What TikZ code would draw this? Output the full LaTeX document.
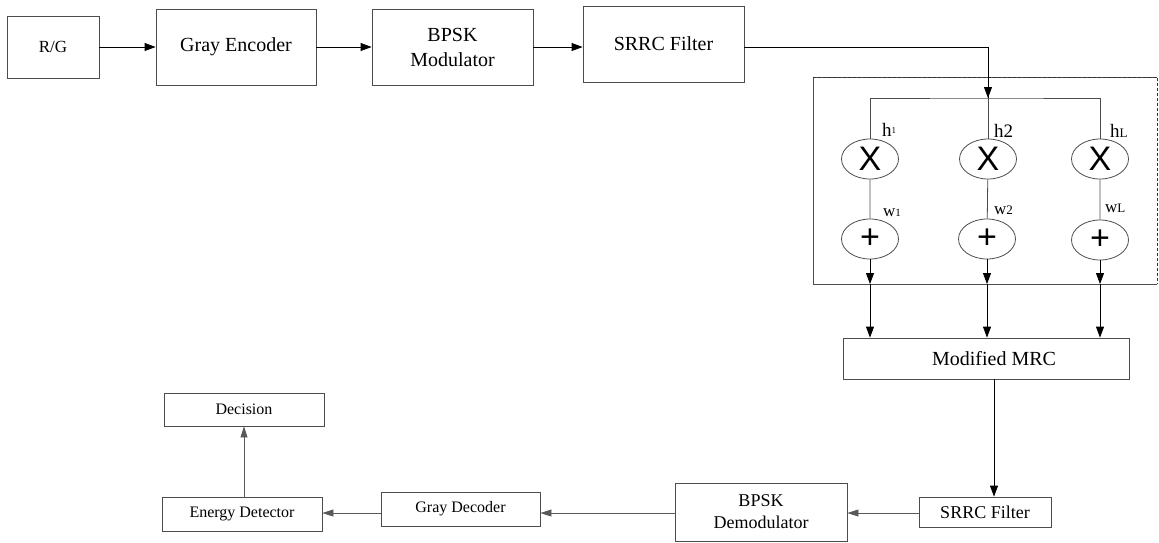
\documentclass[tikz,border=0pt]{standalone}
\usepackage{fontspec}
\setmainfont{Liberation Serif}
\newfontfamily\tnr{Liberation Serif}
\newfontfamily\opsans{Liberation Sans}
\usetikzlibrary{arrows.meta}
\usetikzlibrary{calc}
\usetikzlibrary{shapes.geometric}

\tikzset{
	blk/.style={draw=black!70, line width=0.8pt, inner sep=0pt, align=center, font=\tnr\fontsize{20}{25}\selectfont},
	sblk/.style={blk, font=\tnr\fontsize{16}{20}\selectfont},
	opnode/.style={draw=black!70, ellipse, line width=0.8pt, minimum width=57pt, minimum height=40pt, inner sep=0pt, font=\opsans\fontsize{34}{34}\selectfont},
	lbl/.style={inner sep=0pt, anchor=base west, font=\tnr\fontsize{19}{19}\selectfont},
	sig/.style={line width=0.8pt, -{Triangle[length=11pt,width=8pt]}},
	rsig/.style={line width=0.8pt, draw=black!65, -{Triangle[length=11pt,width=7pt]}, color=black!65}
}

\begin{document}
\begin{tikzpicture}[x=1pt,y=-1pt]
	\useasboundingbox (0,0) rectangle (1159,542);
	% transmitter
	\node [blk, minimum width=92pt, minimum height=62pt, font=\tnr\fontsize{17}{20}\selectfont] (rg) at (53,47) {R/G};
	\node [blk, minimum width=160pt, minimum height=76pt] (genc) at (236,47) {Gray Encoder};
	\node [blk, minimum width=161pt, minimum height=76pt] (bmod) at (452.5,47) {BPSK\\Modulator};
	\node [blk, minimum width=161pt, minimum height=76pt] (srrc) at (663.5,44) {SRRC Filter};
	\draw [sig] (rg.east) -- (rg.east -| genc.west);
	\draw [sig] (genc.east) -- (genc.east -| bmod.west);
	\draw [sig] (bmod.east |- rg.east) -- (bmod.east |- rg.east -| srrc.west);
	% channel
	\draw [line width=0.8pt, black!70] (1157,77) -- (813,77) -- (813,284) -- (1157,284);
	\draw [line width=0.8pt, black!80, dashed, dash pattern=on 3pt off 2pt] (813,77) -- (1157,77) -- (1157,284);
	\coordinate (bus) at (988,98);
	\node [opnode] (mul1) at (870,159) {X};
	\node [opnode] (mul2) at (988,159) {X};
	\node [opnode] (mulL) at (1100,159) {X};
	\node [opnode] (add1) at (870,239) {+};
	\node [opnode] (add2) at (987,239) {+};
	\node [opnode] (addL) at (1100,240) {+};
	\node [lbl] (h1) at (882,136) {h\raisebox{3pt}{\fontsize{9}{9}\selectfont 1}};
	\node [lbl] (h2) at (994,137) {h2};
	\node [lbl] (hL) at (1110,137) {h\fontsize{13}{13}\selectfont L};
	\node [lbl] (w1) at (883,216) {\fontsize{17}{17}\selectfont w\fontsize{11}{11}\selectfont 1};
	\node [lbl] (w2) at (994,214) {\fontsize{17}{17}\selectfont w\fontsize{13}{13}\selectfont 2};
	\node [lbl] (wL) at (1105,212) {\fontsize{17}{17}\selectfont w\fontsize{13}{13}\selectfont L};
	\draw [line width=0.8pt] (srrc.east |- rg.east) -| (bus);
	\draw [sig] (bus |- 0,80) -- (bus);
	\draw [line width=0.8pt, black!70] (mul1.north) |- (bus) -| (mulL.north);
	\draw [line width=0.8pt, black!70] (bus) -- (mul2.north);
	\draw [line width=0.8pt, black!70] (mul1) -- (add1) (mul2) -- (add2) (mulL) -- (addL);
	% combiner
	\node [blk, minimum width=286pt, minimum height=41pt] (mrc) at (986,358.5) {\hspace{16pt}Modified MRC};
	\foreach \k in {1,2,L} {
		\coordinate (out\k) at (add\k.south |- 0,284);
		\draw [sig] (add\k.south) -- (out\k);
		\draw [sig] (out\k) -- (out\k |- mrc.north);
	}
	% receiver
	\node [blk, minimum width=132pt, minimum height=30pt, font=\tnr\fontsize{18}{22}\selectfont] (srrc2) at (985,512) {SRRC Filter};
	\node [blk, minimum width=172pt, minimum height=58pt, font=\tnr\fontsize{18}{22}\selectfont] (bdem) at (761,512) {BPSK\\Demodulator};
	\node [sblk, minimum width=159pt, minimum height=34pt] (gdec) at (460.5,509) {Gray Decoder};
	\node [sblk, minimum width=160pt, minimum height=34pt] (edet) at (242,514) {Energy Detector};
	\node [sblk, minimum width=160pt, minimum height=33pt] (dec) at (244,409.5) {Decision};
	\draw [sig] ([xshift=8pt]mrc.south) -- ([xshift=8pt]mrc.south |- srrc2.north);
	\coordinate (rx) at (0,513);
	\draw [rsig] (srrc2.west |- rx) -- (bdem.east |- rx);
	\draw [rsig] (bdem.west |- rx) -- (gdec.east |- rx);
	\draw [rsig] (gdec.west |- rx) -- (edet.east |- rx);
	\draw [rsig] ([xshift=2pt]edet.north) -- ([xshift=2pt]edet.north |- dec.south);
\end{tikzpicture}
\end{document}
